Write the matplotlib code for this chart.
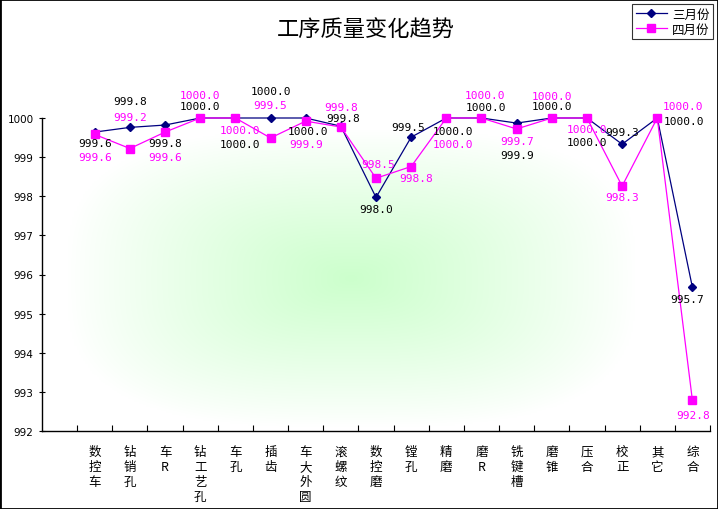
import numpy as np
import matplotlib.pyplot as plt
from matplotlib.patches import Rectangle

plt.rcParams['font.family'] = ['Noto Sans CJK SC', 'DejaVu Sans']

# data
processes = ['数控车', '钻销孔', '车R', '钻工艺孔', '车孔', '插齿', '车大外圆', '滚螺纹', '数控磨',
             '镗孔', '精磨', '磨R', '铣键槽', '磨锥', '压合', '校正', '其它', '综合']
march = [999.64, 999.76, 999.82, 1000.0, 1000.0, 1000.0, 1000.0, 999.79, 997.97,
         999.51, 1000.0, 1000.0, 999.87, 1000.0, 1000.0, 999.33, 1000.0, 995.67]
april = [999.58, 999.22, 999.64, 1000.0, 1000.0, 999.49, 999.92, 999.77, 998.46,
         998.76, 1000.0, 1000.0, 999.72, 1000.0, 1000.0, 998.26, 1000.0, 992.78]
series_names = ['三月份', '四月份']
yticks = [992, 993, 994, 995, 996, 997, 998, 999, 1000]

# where each value label sits relative to its point (pixels)
march_off = [(0, -11), (0, 26), (0, -18), (0, 12), (5, -26), (0, 27), (2, -13), (2, 8), (0, -12),
             (-3, 10), (7, -13), (4, 11), (0, -32), (0, 12), (0, -24), (0, 12), (27, -3), (-5, -12)]
april_off = [(0, -23), (0, 32), (0, -25), (0, 23), (5, -12), (0, 33), (0, -23), (0, 20), (2, 14),
             (5, -11), (7, -26), (3, 23), (0, -12), (0, 22), (0, -11), (0, -11), (26, 12), (1, -15)]

fig = plt.figure(figsize=(7.18, 5.10), dpi=100)
ax = fig.add_axes([42 / 718, 1 - 432 / 510, 668 / 718, 313 / 510])

x = np.arange(len(processes))
ax.set_xlim(-1.5, len(processes) - 0.5)
ax.set_ylim(992, 1000)

# soft green glow behind the lines
gx = np.linspace(-1.5, len(processes) - 0.5, 300)
gy = np.linspace(992, 1000, 200)
GX, GY = np.meshgrid(gx, gy)
d = ((np.abs(GX - 7.3) / 8.1) ** 3.0 + (np.abs(GY - 995.9) / 3.8) ** 3.0) ** (1 / 3.0)
w = np.clip(1 - d, 0, 1) ** 0.9
green = np.array([0.80, 1.0, 0.80])
img = 1 - w[..., None] * (1 - green)
ax.imshow(img, extent=(gx[0], gx[-1], gy[0], gy[-1]), origin='lower', aspect='auto',
          interpolation='bilinear', zorder=0)

ax.plot(x, march, color='#000080', lw=0.9, marker='D', ms=4.5, label=series_names[0],
        clip_on=False, zorder=3)
ax.plot(x, april, color='#ff00ff', lw=0.9, marker='s', ms=5.5, label=series_names[1],
        clip_on=False, zorder=4)

for xi, v, off in zip(x, march, march_off):
    ax.annotate('%.1f' % v, (xi, v), xytext=off, textcoords='offset pixels', ha='center',
                va='center', fontsize=8, family='DejaVu Sans Mono', color='black', zorder=5,
                annotation_clip=False)
for xi, v, off in zip(x, april, april_off):
    ax.annotate('%.1f' % v, (xi, v), xytext=off, textcoords='offset pixels', ha='center',
                va='center', fontsize=8, family='DejaVu Sans Mono', color='#ff00ff', zorder=5,
                annotation_clip=False)

ax.spines['top'].set_visible(False)
ax.spines['right'].set_visible(False)
for s in ['left', 'bottom']:
    ax.spines[s].set_linewidth(1.0)

ax.set_yticks(yticks)
ax.set_yticklabels([str(t) for t in yticks], family='DejaVu Sans', fontsize=7.5)
ax.tick_params(axis='y', direction='inout', length=4, width=0.8, pad=4)

ax.set_xticks(x)
ax.set_xticklabels(['\n'.join(p) for p in processes], fontsize=9, linespacing=1.2)
ax.set_xticks(np.arange(-0.5, len(processes)), minor=True)
ax.tick_params(axis='x', which='major', length=0, pad=10)
ax.tick_params(axis='x', which='minor', direction='in', length=4, width=0.8)

fig.text(366 / 718, 1 - 30 / 510, '工序质量变化趋势', ha='center', va='center', fontsize=16)

leg = fig.legend(loc='upper left', bbox_to_anchor=(632 / 718, 1 - 5 / 510), borderaxespad=0,
                 fontsize=9, frameon=True, fancybox=False, handlelength=2.5, handletextpad=0.4,
                 borderpad=0.3, labelspacing=0.15)
leg.get_frame().set_edgecolor('black')
leg.get_frame().set_linewidth(0.8)

fig.patches.append(Rectangle((0, 0), 1, 1, transform=fig.transFigure, fill=False,
                             edgecolor='black', lw=2))

fig.savefig('out.png', dpi=100)
